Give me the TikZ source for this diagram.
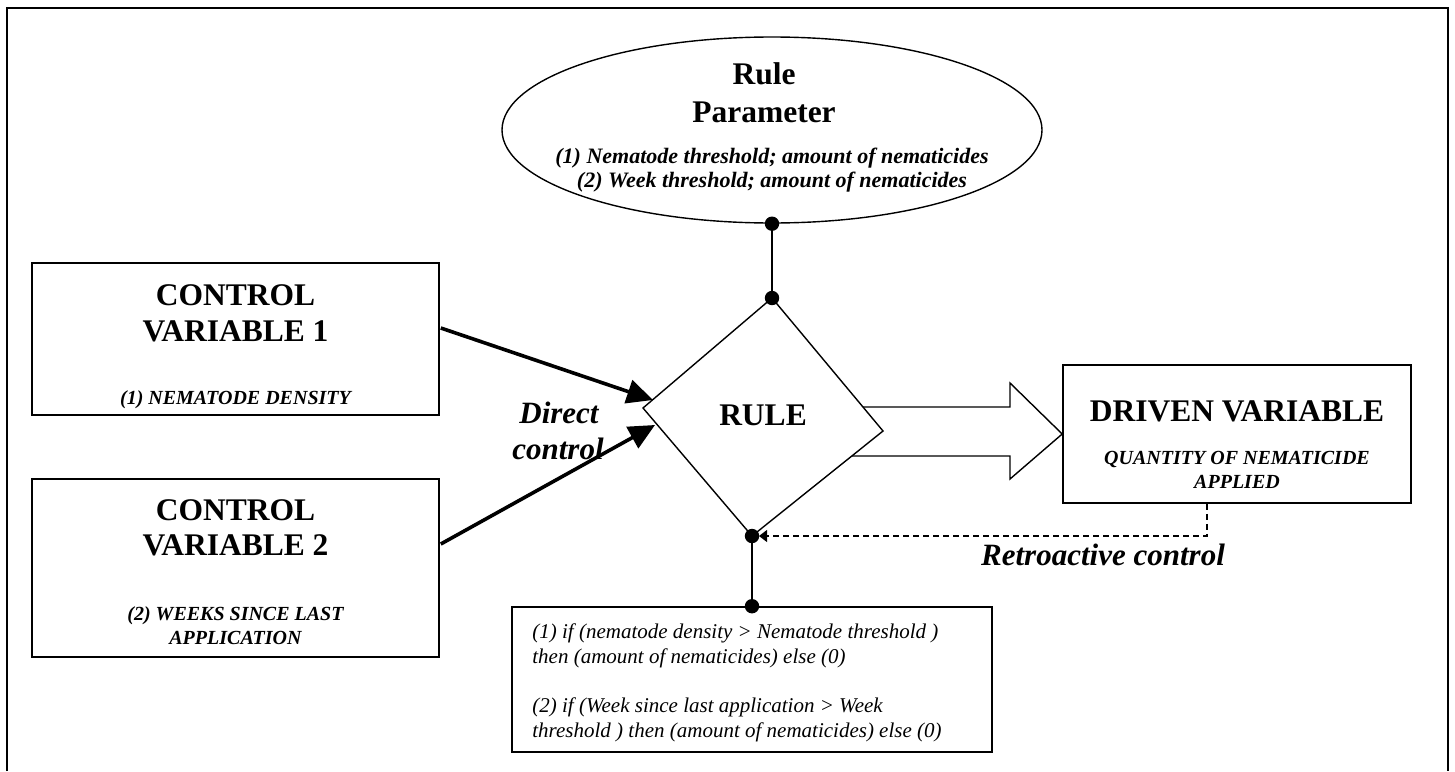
\documentclass[tikz,border=0pt]{standalone}
\usepackage{fontspec}
\setmainfont{Liberation Serif}
\usetikzlibrary{shapes.geometric,arrows.meta,calc}
\newcommand{\hdfont}{\fontsize{15.75pt}{19pt}\selectfont\bfseries}
\newcommand{\subfont}{\fontsize{10pt}{12pt}\selectfont\bfseries\itshape}
\newcommand{\parfont}{\fontsize{11pt}{12pt}\selectfont\bfseries\itshape}
\newcommand{\rulefont}{\fontsize{10.5pt}{12.5pt}\selectfont\itshape}
\newcommand{\lblfont}{\fontsize{15.5pt}{18pt}\selectfont\bfseries\itshape}
\begin{document}
\begin{tikzpicture}[x=0.5pt,y=-0.5pt,
  box/.style={draw, line width=0.8pt, inner sep=0pt},
  txt/.style={anchor=base, inner sep=0pt},
  ltxt/.style={anchor=base west, inner sep=0pt},
  thin/.style={line width=0.7pt},
  ctrl/.style={line width=1.8pt, -{Triangle[length=13pt,width=12pt]}},
  retro/.style={line width=0.55pt, dash pattern=on 3pt off 2pt, -{Triangle[length=4pt,width=6pt]}},
  dot/.style={fill=black}]
\useasboundingbox (0,0) rectangle (1455,771);
% frame
\draw[line width=1.1pt] (7,771) -- (7,8) -- (1448,8) -- (1448,771);

% boxes
\node[box, minimum width=203.5pt, minimum height=76pt] (cv1) at (235.5,339) {};
\node[box, minimum width=203.5pt, minimum height=89pt] (cv2) at (235.5,568) {};
\node[box, minimum width=174pt, minimum height=69pt] (dv) at (1237,434) {};
\node[box, minimum width=240pt, minimum height=72.5pt] (rb) at (752,679.5) {};
\node[ellipse, draw, line width=0.7pt, minimum width=270pt, minimum height=93pt, inner sep=0pt] (par) at (772,130) {};

% diamond corners
\coordinate (dT) at (772,298);
\coordinate (dR) at (883,431);
\coordinate (dB) at (752,536);
\coordinate (dL) at (643,408);

% hollow arrow rule -> driven variable
\draw[thin, fill=white] (800,407) -- (1010,407) -- (1010,383) -- (dv.west) -- (1010,479) -- (1010,456) -- (800,456);
% diamond
\draw[thin, fill=white] (dT) -- (dR) -- (dB) -- (dL) -- cycle;
\node[txt] (rule) at (763,425) {\hdfont RULE};

% control arrows
\coordinate (a1e) at (653,400);
\coordinate (a2e) at (655,425);
\draw[ctrl] ($(cv1.east)+(1,-11)$) -- (a1e);
\draw[ctrl] ($(cv2.east)+(1,-24)$) -- (a2e);

% connectors with dots
\draw[thin] (par.south) -- (dT);
\draw[thin] (dB) -- (rb.north);
\fill[dot] (par.south) circle (3.6pt);
\fill[dot] (dT) circle (3.6pt);
\fill[dot] (dB) circle (3.6pt);
\fill[dot] (rb.north) circle (3.6pt);

% retroactive dashed
\coordinate (rs) at ($(dv.south)+(-30,0)$);
\draw[retro, shorten >=3.5pt] (rs) |- (dB);

% texts
\node[txt] at (764,84) {\hdfont Rule};
\node[txt] at (764,122) {\hdfont Parameter};
\node[txt] at (772,163) {\parfont (1) Nematode threshold; amount of nematicides};
\node[txt] at (772,187) {\parfont (2) Week threshold; amount of nematicides};

\node[txt] at (235.5,305) {\hdfont CONTROL};
\node[txt] at (235.5,341) {\hdfont VARIABLE 1};
\node[txt] at (235.5,404) {\subfont (1) NEMATODE DENSITY};

\node[txt] at (235.5,520) {\hdfont CONTROL};
\node[txt] at (235.5,555) {\hdfont VARIABLE 2};
\node[txt] at (235.5,620) {\subfont (2) WEEKS SINCE LAST};
\node[txt] at (235.5,644) {\subfont APPLICATION};

\node[txt] at (1237,421) {\hdfont DRIVEN VARIABLE};
\node[txt] at (1237,464) {\subfont QUANTITY OF NEMATICIDE};
\node[txt] at (1237,488) {\subfont APPLIED};

\node[txt] at (559,423) {\lblfont Direct};
\node[txt] at (558,459) {\lblfont control};
\node[txt] at (1103,565) {\lblfont Retroactive control};

\node[ltxt] at (532,638) {\rulefont (1) if (nematode density > Nematode threshold )};
\node[ltxt] at (532,663) {\rulefont then (amount of nematicides) else (0)};
\node[ltxt] at (532,712) {\rulefont (2) if (Week since last application > Week};
\node[ltxt] at (532,737) {\rulefont threshold ) then (amount of nematicides) else (0)};
\end{tikzpicture}
\end{document}
